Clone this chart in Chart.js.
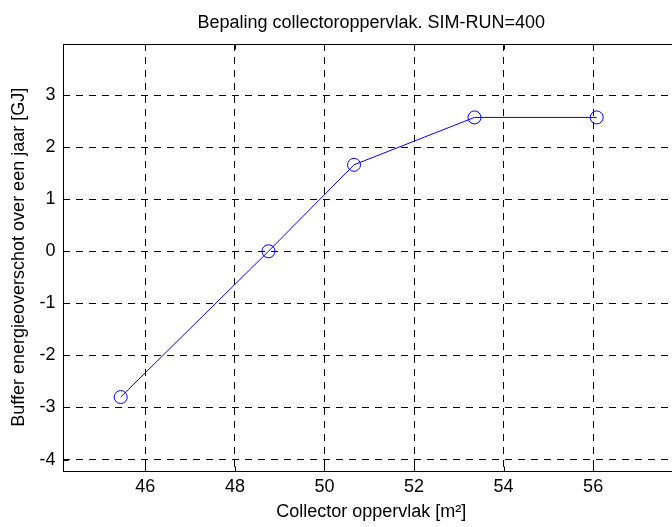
<!DOCTYPE html>
<html><head><meta charset="utf-8">
<script src="https://cdn.jsdelivr.net/npm/chart.js@4.4.1/dist/chart.umd.min.js"></script>
<style>html,body{margin:0;padding:0;background:#fff;overflow:hidden;width:672px;height:527px}
#wrap{width:690px;height:527px;position:relative}</style></head>
<body><div id="wrap"><canvas id="c" width="690" height="527"></canvas></div>
<script>
const titleText = 'Bepaling collectoroppervlak. SIM-RUN=400';
const xLabel = 'Collector oppervlak [m²]';
const yLabel = 'Buffer energieoverschot over een jaar [GJ]';
const collectorArea = [45.45, 48.75, 50.66, 53.35, 56.08];
const bufferSurplus = [-2.80, 0.0, 1.66, 2.57, 2.57];
const xTicks = [46, 48, 50, 52, 54, 56];
const yTicks = [-4, -3, -2, -1, 0, 1, 2, 3];
const xRange = [44.15, 57.94];
const yRange = [-4.21, 3.98];

const FONT = "'Liberation Sans', Arial, sans-serif";
const FS = 18;

const framePlugin = {
  id: 'frame',
  beforeDraw(chart) {
    const ctx = chart.ctx;
    ctx.save(); ctx.fillStyle = '#fff'; ctx.fillRect(0, 0, chart.width, chart.height); ctx.restore();
  },
  afterDraw(chart) {
    const {ctx, chartArea: a, scales: {x, y}} = chart;
    ctx.save();
    ctx.strokeStyle = '#000'; ctx.lineWidth = 1;
    const L = Math.round(a.left) + 0.5, T = Math.round(a.top) + 0.5;
    const R = Math.round(a.right) + 0.5, B = Math.round(a.bottom) + 0.5;
    ctx.strokeRect(L, T, R - L, B - T);
    ctx.beginPath();
    const tl = 5;
    x.ticks.forEach((t, i) => {
      const px = Math.round(x.getPixelForTick(i)) + 0.5;
      ctx.moveTo(px, B); ctx.lineTo(px, B - tl);
      ctx.moveTo(px, T); ctx.lineTo(px, T + tl);
    });
    y.ticks.forEach((t, i) => {
      const py = Math.round(y.getPixelForTick(i)) + 0.5;
      ctx.moveTo(L, py); ctx.lineTo(L + tl, py);
      ctx.moveTo(R, py); ctx.lineTo(R - tl, py);
    });
    ctx.stroke();
    ctx.fillStyle = '#000';
    ctx.font = FS + 'px ' + FONT;
    ctx.textAlign = 'center';
    ctx.textBaseline = 'alphabetic';
    ctx.fillText(titleText, (a.left + a.right) / 2, 28);
    ctx.restore();
  }
};

new Chart(document.getElementById('c'), {
  type: 'line',
  data: {
    datasets: [{
      data: collectorArea.map((v, i) => ({x: v, y: bufferSurplus[i]})),
      borderColor: '#0000ff',
      borderWidth: 1,
      pointStyle: 'circle',
      pointRadius: 6.5,
      pointBorderWidth: 1,
      pointBorderColor: '#0000ff',
      pointBackgroundColor: 'rgba(0,0,0,0)',
      tension: 0,
      fill: false
    }]
  },
  options: {
    responsive: false,
    animation: false,
    devicePixelRatio: 1,
    layout: {padding: {top: 44, right: 10, left: 0, bottom: 0}},
    plugins: {legend: {display: false}, tooltip: {enabled: false}},
    scales: {
      x: {
        type: 'linear', min: xRange[0], max: xRange[1],
        afterBuildTicks: s => { s.ticks = xTicks.map(v => ({value: v})); },
        afterFit: s => { s.height = 56.5; },
        grid: {color: '#000', lineWidth: 1, drawTicks: false},
        border: {display: false, dash: [7, 6]},
        ticks: {color: '#000', font: {family: FONT, size: FS}, padding: 6, maxRotation: 0},
        title: {display: true, text: xLabel, color: '#000', font: {family: FONT, size: FS}, padding: {top: 0}}
      },
      y: {
        type: 'linear', min: yRange[0], max: yRange[1],
        afterBuildTicks: s => { s.ticks = yTicks.map(v => ({value: v})); },
        afterFit: s => { s.width = 62.5; },
        grid: {color: '#000', lineWidth: 1, drawTicks: false},
        border: {display: false, dash: [7, 6]},
        ticks: {color: '#000', font: {family: FONT, size: FS}, padding: 7},
        title: {display: true, text: yLabel, color: '#000', font: {family: FONT, size: FS}, padding: {top: 8, bottom: 0}}
      }
    }
  },
  plugins: [framePlugin]
});
</script>
</body></html>
